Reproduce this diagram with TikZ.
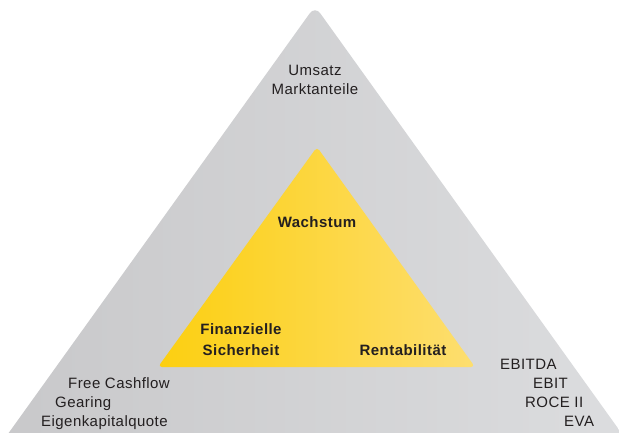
\documentclass[tikz,border=0pt]{standalone}
\usepackage{fontspec}
\setmainfont{Liberation Sans}[LetterSpace=3]
\usetikzlibrary{calc}
\definecolor{grayL}{HTML}{C8C8CA}
\definecolor{grayR}{HTML}{DCDDDF}
\definecolor{yelL}{HTML}{FCCF10}
\definecolor{yelR}{HTML}{FDDE70}
\definecolor{txt}{HTML}{231F20}
\tikzset{
  lbl/.style={font=\fontsize{15}{19}\selectfont, text=txt, inner sep=0pt, anchor=base},
  blbl/.style={lbl, font=\fontsize{15}{19}\selectfont\bfseries},
}
\begin{document}
\begin{tikzpicture}[x=1pt,y=-1pt]
\useasboundingbox (0,0) rectangle (619,433);
\begin{scope}
\clip (0,0) rectangle (619,433);
\coordinate (oa) at (315,6);
\coordinate (ol) at (-5,452);
\coordinate (or) at (635,452);
\shade[left color=grayL, right color=grayR, rounded corners=9pt]
  (oa) -- (or) -- (ol) -- cycle;
\end{scope}
\coordinate (ia) at (317,147);
\coordinate (il) at (158,367);
\coordinate (ir) at (475,367);
\shade[left color=yelL, right color=yelR, rounded corners=4pt]
  (ia) -- (ir) -- (il) -- cycle;
% top labels
\node[lbl] (u1) at (315,76) {Umsatz};
\node[lbl] (u2) at (315,95) {Marktanteile};
% inner labels
\node[blbl] (w) at (317,227) {Wachstum};
\node[blbl] (f1) at (241,334) {Finanzielle};
\node[blbl] (f2) at (241,355) {Sicherheit};
\node[blbl] (r) at (403,355) {Rentabilität};
% left
\node[lbl, anchor=base west] (l1) at (68,388) {Free Cashflow};
\node[lbl, anchor=base west] (l2) at (55,407) {Gearing};
\node[lbl, anchor=base west] (l3) at (41,426) {Eigenkapitalquote};
% right
\node[lbl, anchor=base west] (r1) at (500,369) {EBITDA};
\node[lbl, anchor=base west] (r2) at (533,388) {EBIT};
\node[lbl, anchor=base west] (r3) at (525,407) {ROCE II};
\node[lbl, anchor=base west] (r4) at (564,426) {EVA};
\end{tikzpicture}
\end{document}
